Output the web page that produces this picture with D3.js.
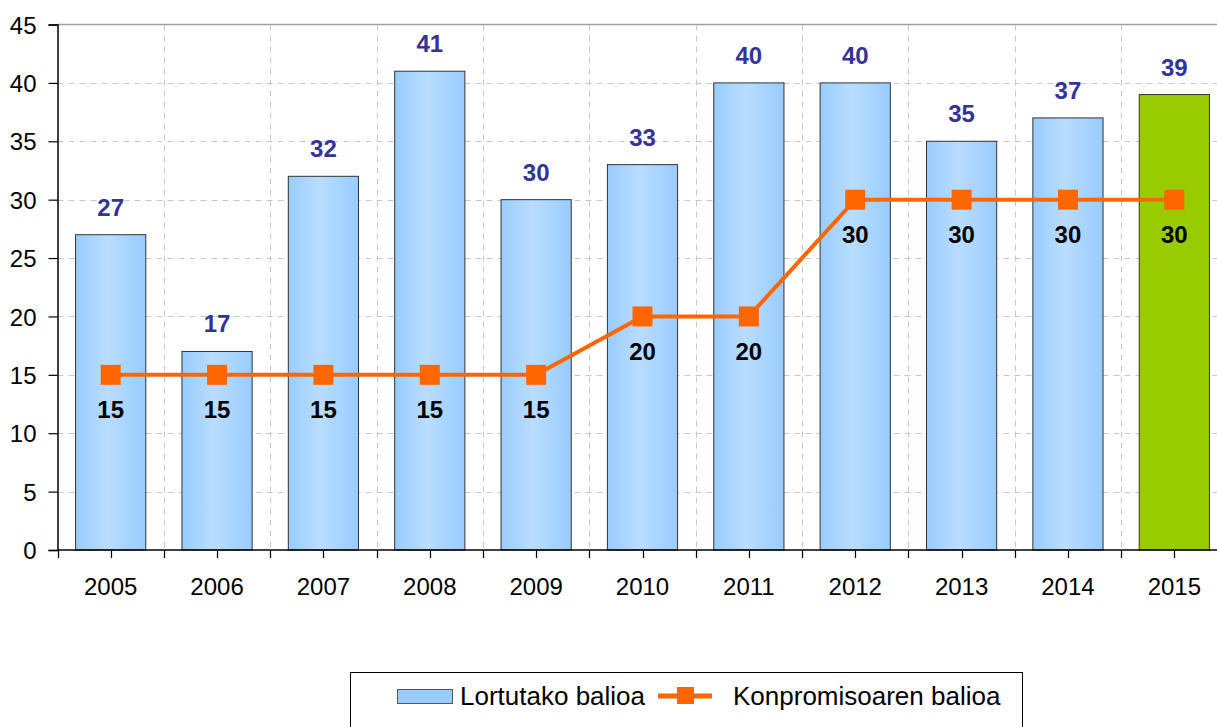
<!DOCTYPE html>
<html><head><meta charset="utf-8">
<script src="https://cdn.jsdelivr.net/npm/d3@7/dist/d3.min.js"></script>
<style>body{margin:0;background:#fff;overflow:hidden}svg{display:block;font-family:"Liberation Sans",Arial,sans-serif}</style>
</head><body>
<svg id="c" width="1217" height="727"></svg>
<script>
const years = ["2005","2006","2007","2008","2009","2010","2011","2012","2013","2014","2015"];
const achieved = [27,17,32,41,30,33,40,40,35,37,39];
const commitment = [15,15,15,15,15,20,20,30,30,30,30];
const yTicks = [0,5,10,15,20,25,30,35,40,45];
const seriesNames = ["Lortutako balioa","Konpromisoaren balioa"];

const svg = d3.select("#c");
const L = 57.5, R = 1227.5, T = 24.5, B = 550;
const x = d3.scaleBand().domain(years).range([L, R]).paddingInner(0.34).paddingOuter(0.17);
const y = d3.scaleLinear().domain([0,45]).range([B, T]);
const step = x.step();
const FF = "Liberation Sans, Arial, sans-serif";

const defs = svg.append("defs");
const g = defs.append("linearGradient").attr("id","bg").attr("x1","0").attr("x2","1");
g.append("stop").attr("offset","0").attr("stop-color","#99CCFF");
g.append("stop").attr("offset","0.45").attr("stop-color","#B9DDFF");
g.append("stop").attr("offset","1").attr("stop-color","#99CCFF");

// horizontal gridlines
svg.append("g").selectAll("line").data(yTicks.filter(d=>d>0 && d<45)).join("line")
  .attr("x1",L).attr("x2",R).attr("y1",d=>Math.round(y(d))+0.5).attr("y2",d=>Math.round(y(d))+0.5)
  .attr("stroke","#C8C8C8").attr("stroke-dasharray","6,5");
// vertical gridlines at band boundaries
svg.append("g").selectAll("line").data(years.slice(1)).join("line")
  .attr("x1",d=>Math.round(x(d)+x.bandwidth()/2-step/2)+0.5).attr("x2",d=>Math.round(x(d)+x.bandwidth()/2-step/2)+0.5)
  .attr("y1",T).attr("y2",B).attr("stroke","#C8C8C8").attr("stroke-dasharray","6,5");
// top border
svg.append("line").attr("x1",L).attr("x2",R).attr("y1",T).attr("y2",T).attr("stroke","#A0A0A0").attr("stroke-width",1.5);

// bars
svg.append("g").selectAll("rect").data(years).join("rect")
  .attr("x",d=>x(d)).attr("width",x.bandwidth())
  .attr("y",(d,i)=>y(achieved[i])).attr("height",(d,i)=>B-y(achieved[i]))
  .attr("fill",(d,i)=>i===years.length-1?"#99CC00":"url(#bg)")
  .attr("stroke","#333").attr("stroke-width",1);

// axes
const yAxis = d3.axisLeft(y).tickValues(yTicks).tickSize(9).tickPadding(12);
const ya = svg.append("g").attr("transform",`translate(${L},0)`).call(yAxis);
ya.select(".domain").attr("stroke","#000").attr("stroke-width",1.5);
ya.selectAll(".tick line").attr("stroke","#000").attr("stroke-width",1.2);
ya.selectAll("text").attr("font-size",24).attr("fill","#000").attr("font-family",FF).attr("dy","0.36em");

const xAxis = d3.axisBottom(x).tickSize(0).tickPadding(28);
const xa = svg.append("g").attr("transform",`translate(0,${B})`).call(xAxis);
xa.select(".domain").attr("stroke","#000").attr("stroke-width",1.5).attr("d",`M${L},0H${R}`);
xa.selectAll("text").attr("font-size",24).attr("fill","#000").attr("font-family",FF);
// tick marks at centers and boundaries
const tickXs = [];
years.forEach(d=>{ const c = x(d)+x.bandwidth()/2; tickXs.push(c - step/2, c); });
svg.append("g").selectAll("line").data(tickXs).join("line")
  .attr("x1",d=>Math.round(d)+0.5).attr("x2",d=>Math.round(d)+0.5).attr("y1",B).attr("y2",B+8)
  .attr("stroke","#000").attr("stroke-width",1.2);

// line
const cx = d=>x(d)+x.bandwidth()/2;
svg.append("path").datum(years)
  .attr("d",d3.line().x(d=>cx(d)).y((d,i)=>y(commitment[i])))
  .attr("fill","none").attr("stroke","#FF6600").attr("stroke-width",4);
svg.append("g").selectAll("rect").data(years).join("rect")
  .attr("x",d=>cx(d)-10).attr("y",(d,i)=>y(commitment[i])-10).attr("width",20).attr("height",20)
  .attr("fill","#FF6600");

// labels
svg.append("g").selectAll("text").data(years).join("text")
  .attr("x",d=>cx(d)).attr("y",(d,i)=>y(achieved[i])-19)
  .attr("text-anchor","middle").attr("font-size",24).attr("font-weight","bold").attr("fill","#333399")
  .text((d,i)=>achieved[i]);
svg.append("g").selectAll("text").data(years).join("text")
  .attr("x",d=>cx(d)).attr("y",(d,i)=>y(commitment[i])+43.5)
  .attr("text-anchor","middle").attr("font-size",24).attr("font-weight","bold").attr("fill","#000")
  .text((d,i)=>commitment[i]);

// legend
const lg = svg.append("g");
lg.append("rect").attr("x",350.5).attr("y",672.5).attr("width",672).attr("height",70).attr("fill","#fff").attr("stroke","#000").attr("stroke-width",1);
lg.append("rect").attr("x",397.5).attr("y",689.5).attr("width",55).attr("height",14).attr("fill","#99CCFF").attr("stroke","#555");
lg.append("text").attr("x",460).attr("y",705).attr("font-size",26).attr("fill","#000").text(seriesNames[0]);
lg.append("line").attr("x1",658).attr("x2",712).attr("y1",696).attr("y2",696).attr("stroke","#FF6600").attr("stroke-width",5);
lg.append("rect").attr("x",677).attr("y",687).attr("width",17).attr("height",17).attr("fill","#FF6600");
lg.append("text").attr("x",733).attr("y",705).attr("font-size",26).attr("fill","#000").text(seriesNames[1]);
</script>
</body></html>
